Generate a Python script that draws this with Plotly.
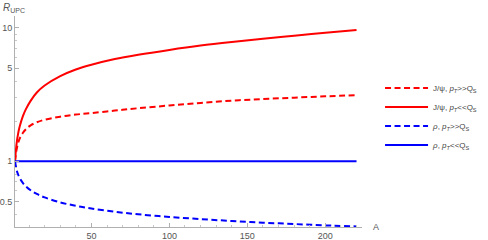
import plotly.graph_objects as go

# ---- data ----
A_vals = [1, 2, 3, 4, 6, 8, 11, 15, 20, 30, 40, 50, 65, 80, 100, 120, 140, 160, 180, 200, 220]
jpsi_hard = [1.0, 1.22, 1.37, 1.48, 1.63, 1.74, 1.86, 1.96, 2.05, 2.16, 2.24, 2.3, 2.4, 2.5,
             2.62, 2.74, 2.85, 2.93, 3.0, 3.07, 3.13]
jpsi_soft = [1.0, 1.35, 1.61, 1.82, 2.17, 2.46, 2.84, 3.28, 3.7, 4.35, 4.88, 5.3, 5.85, 6.3,
             6.85, 7.38, 7.85, 8.3, 8.75, 9.2, 9.66]
rho_hard = [1.0, 0.865, 0.795, 0.748, 0.688, 0.648, 0.606, 0.568, 0.535, 0.491, 0.463, 0.442,
            0.418, 0.400, 0.382, 0.368, 0.356, 0.346, 0.338, 0.330, 0.324]
rho_soft = [1.0] * len(A_vals)

names = [
    "J/ψ, <i>p</i><sub><i>T</i></sub>>>Q<sub>S</sub>",
    "J/ψ, <i>p</i><sub><i>T</i></sub><<Q<sub>S</sub>",
    "<i>ρ</i>, <i>p</i><sub><i>T</i></sub>>>Q<sub>S</sub>",
    "<i>ρ</i>, <i>p</i><sub><i>T</i></sub><<Q<sub>S</sub>",
]
series = [jpsi_hard, jpsi_soft, rho_hard, rho_soft]
colors = ["#ff0000", "#ff0000", "#0000ff", "#0000ff"]
dashes = ["6px,3.5px", "solid", "6px,3.5px", "solid"]

x_major = [50, 100, 150, 200]
x_minor = [10, 20, 30, 40, 60, 70, 80, 90, 110, 120, 130, 140, 160, 170, 180, 190, 210, 220]
y_major = [0.5, 1, 5, 10]
y_major_text = ["0.5", "1", "5", "10"]
y_minor = [0.4, 0.6, 0.7, 0.8, 0.9, 2, 3, 4, 6, 7, 8, 9]

FONT = "Liberation Sans, Arial, sans-serif"
GRAY = "#555555"

fig = go.Figure()
for name, ys, c, d in zip(names, series, colors, dashes):
    fig.add_trace(go.Scatter(
        x=A_vals, y=ys, mode="lines", name=name,
        line=dict(color=c, width=2, dash=d, shape="spline", smoothing=1.0),
    ))

fig.update_layout(
    width=488, height=240,
    margin=dict(l=15, r=126, t=16, b=13, autoexpand=False),
    paper_bgcolor="white", plot_bgcolor="white",
    font=dict(family=FONT, size=9, color=GRAY),
    showlegend=True,
    legend=dict(x=1.052, y=0.728, xanchor="left", yanchor="top",
                font=dict(family=FONT, size=8, color="#444444"),
                bgcolor="rgba(0,0,0,0)", itemwidth=43, tracegroupgap=0),
    xaxis=dict(range=[1, 223.5], showgrid=False, zeroline=False, automargin=False,
               showline=True, linecolor="#b0b0b0", linewidth=1,
               ticks="inside", ticklen=4, tickcolor="#b0b0b0",
               tickvals=x_major, ticktext=[str(v) for v in x_major],
               tickfont=dict(size=9, color=GRAY),
               minor=dict(tickvals=x_minor, ticks="inside", ticklen=2, tickcolor="#c8c8c8")),
    yaxis=dict(type="log", range=[-0.4935, 1.09], showgrid=False, zeroline=False, automargin=False,
               showline=True, linecolor="#b0b0b0", linewidth=1,
               ticks="inside", ticklen=4, tickcolor="#b0b0b0",
               tickvals=y_major, ticktext=y_major_text,
               tickfont=dict(size=9, color=GRAY),
               minor=dict(tickvals=y_minor, ticks="inside", ticklen=2, tickcolor="#c8c8c8")),
    annotations=[
        dict(text="<i>R</i><sub>UPC</sub>", xref="paper", yref="paper", x=-0.04, y=1.0,
             xanchor="left", yanchor="bottom", showarrow=False,
             font=dict(family=FONT, size=10, color=GRAY)),
        dict(text="A", xref="paper", yref="paper", x=1.025, y=0.0,
             xanchor="left", yanchor="middle", showarrow=False,
             font=dict(family=FONT, size=9, color=GRAY)),
    ],
)

fig.write_html("out.html", config={"displayModeBar": False},
               post_script="document.body.style.margin='0';")
